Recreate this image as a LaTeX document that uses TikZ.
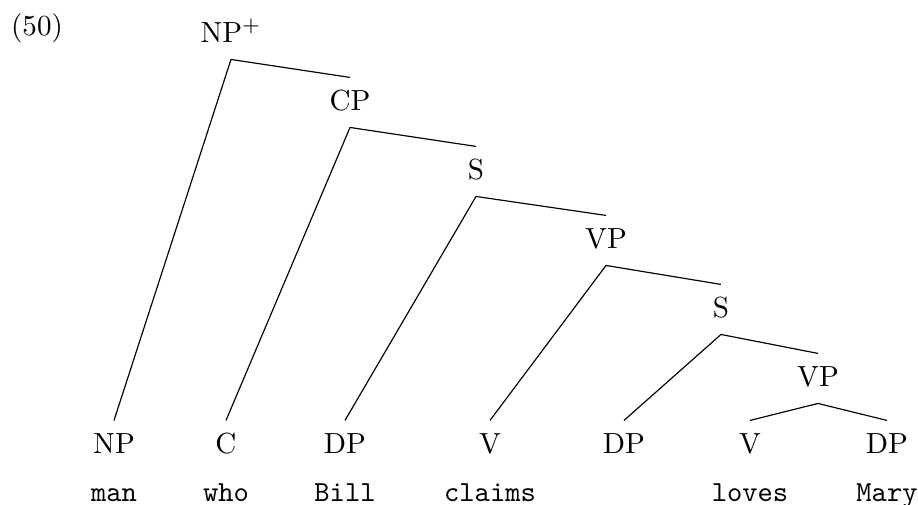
\documentclass[tikz,border=0pt]{standalone}
\usetikzlibrary{positioning}

\begin{document}
\begin{tikzpicture}[x=0.3437pt, y=-0.3437pt,
    cat/.style={anchor=base, text height=8pt, text depth=2.8pt, inner ysep=3pt},
    word/.style={font=\ttfamily, text height=8pt, text depth=2.8pt, inner ysep=3pt}]
    \useasboundingbox (0,0) rectangle (918,504);
    % number %
    \node[anchor=base] (num) at (37,35) {(50)};
    % spine %
    \node[cat] (np0) at (231,42) {NP$^+$};
    \node[cat] (cp) at (350,110) {CP};
    \node[cat] (s1) at (476,179) {S};
    \node[cat] (vp1) at (606,248) {VP};
    \node[cat] (s2) at (721,317) {S};
    \node[cat] (vp2) at (818,386) {VP};
    % leaves %
    \node[cat] (np) at (114,453) {NP};
    \node[cat] (c) at (226,453) {C};
    \node[cat] (dp1) at (345,453) {DP};
    \node[cat] (v1) at (490,453) {V};
    \node[cat] (dp2) at (624,453) {DP};
    \node[cat] (v2) at (750,453) {V};
    \node[cat] (dp3) at (887,453) {DP};
    % words %
    \node[word, below = -0.6pt of np] (man) {man};
    \node[word, below = -0.6pt of c] (who) {who};
    \node[word, below = -0.6pt of dp1] (bill) {Bill};
    \node[word, below = -0.6pt of v1] (claims) {claims};
    \node[word, below = -0.6pt of v2] (loves) {loves};
    \node[word, below = -0.6pt of dp3] (mary) {Mary};
    % edges %
    \draw (np.north) -- (np0.south) -- (cp.north);
    \draw (c.north) -- (cp.south) -- (s1.north);
    \draw (dp1.north) -- (s1.south) -- (vp1.north);
    \draw (v1.north) -- (vp1.south) -- (s2.north);
    \draw (dp2.north) -- (s2.south) -- (vp2.north);
    \draw (v2.north) -- (vp2.south) -- (dp3.north);
\end{tikzpicture}
\end{document}
